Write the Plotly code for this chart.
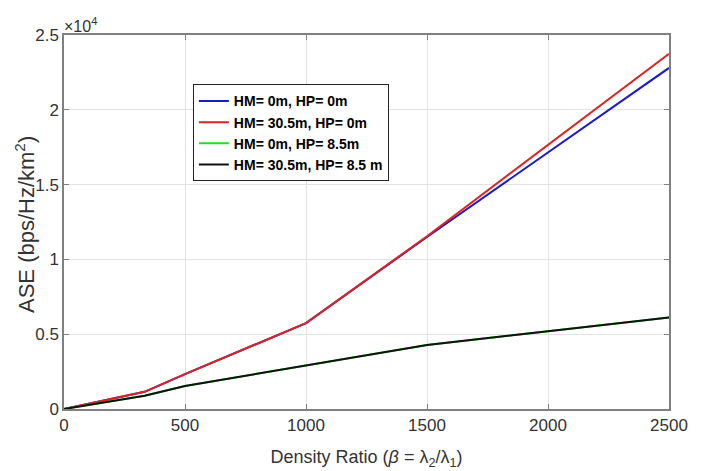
import plotly.graph_objects as go

x_vals = [0, 333, 500, 1000, 1500, 2000, 2500]
ase_hm0_hp0 = [0, 1150, 2330, 5740, 11500, 17150, 22800]
ase_hm305_hp0 = [0, 1150, 2330, 5740, 11550, 17650, 23750]
ase_hm0_hp85 = [0, 890, 1540, 2900, 4280, 5200, 6110]
ase_hm305_hp85 = [0, 890, 1540, 2900, 4280, 5200, 6110]

series_names = ["HM= 0m, HP= 0m", "HM= 30.5m, HP= 0m", "HM= 0m, HP= 8.5m", "HM= 30.5m, HP= 8.5 m"]
series_colors = ["#1a1acc", "#dd2222", "#22dd22", "#111111"]
series_values = [ase_hm0_hp0, ase_hm305_hp0, ase_hm0_hp85, ase_hm305_hp85]

x_ticks = [0, 500, 1000, 1500, 2000, 2500]
y_ticks = [0, 5000, 10000, 15000, 20000, 25000]
y_tick_labels = ["0", "0.5", "1", "1.5", "2", "2.5"]

FONT = "Liberation Sans, Arial"

fig = go.Figure()
for name, color, vals in zip(series_names, series_colors, series_values):
    fig.add_trace(go.Scatter(x=x_vals, y=vals, mode="lines", name=name,
                             line=dict(color=color, width=2)))

axis_common = dict(showgrid=True, gridcolor="#e3e3e3", gridwidth=1, automargin=False,
                   showline=True, linecolor="#808080", linewidth=1.5, mirror="ticks",
                   ticks="inside", ticklen=5, tickcolor="#808080", zeroline=False,
                   tickfont=dict(family=FONT, size=17, color="#333333"))

fig.update_xaxes(range=[0, 2500], tickvals=x_ticks, **axis_common,
                 title=dict(text="Density Ratio (<i>β</i> = λ<sub>2</sub>/λ<sub>1</sub>)",
                            font=dict(family=FONT, size=18, color="#333333"),
                            standoff=16))
fig.update_yaxes(range=[0, 25000], tickvals=y_ticks, ticktext=y_tick_labels, **axis_common)

fig.add_annotation(xref="paper", yref="paper", x=0, y=0.5, xanchor="center", yanchor="middle",
                   text="ASE (bps/Hz/km<sup>2</sup>)", textangle=-90, showarrow=False,
                   xshift=-39, yshift=-3,
                   font=dict(family=FONT, size=22, color="#333333"))

fig.add_annotation(xref="paper", yref="paper", x=0, y=1, xanchor="left", yanchor="bottom",
                   text="×10<sup>4</sup>", showarrow=False, yshift=-2, xshift=-2,
                   font=dict(family=FONT, size=16, color="#333333"))

fig.update_layout(
    width=706, height=471,
    margin=dict(l=64, r=37, t=35, b=62),
    paper_bgcolor="white", plot_bgcolor="white",
    showlegend=True,
    legend=dict(x=0.213, y=0.868, xanchor="left", yanchor="top",
                bgcolor="white", bordercolor="#222222", borderwidth=1,
                font=dict(family=FONT, size=14, color="black", weight="bold"),
                tracegroupgap=0, itemwidth=30),
)

fig.write_html("out.html", config={"displayModeBar": False},
               post_script="document.body.style.margin='0';document.body.style.padding='0';")
